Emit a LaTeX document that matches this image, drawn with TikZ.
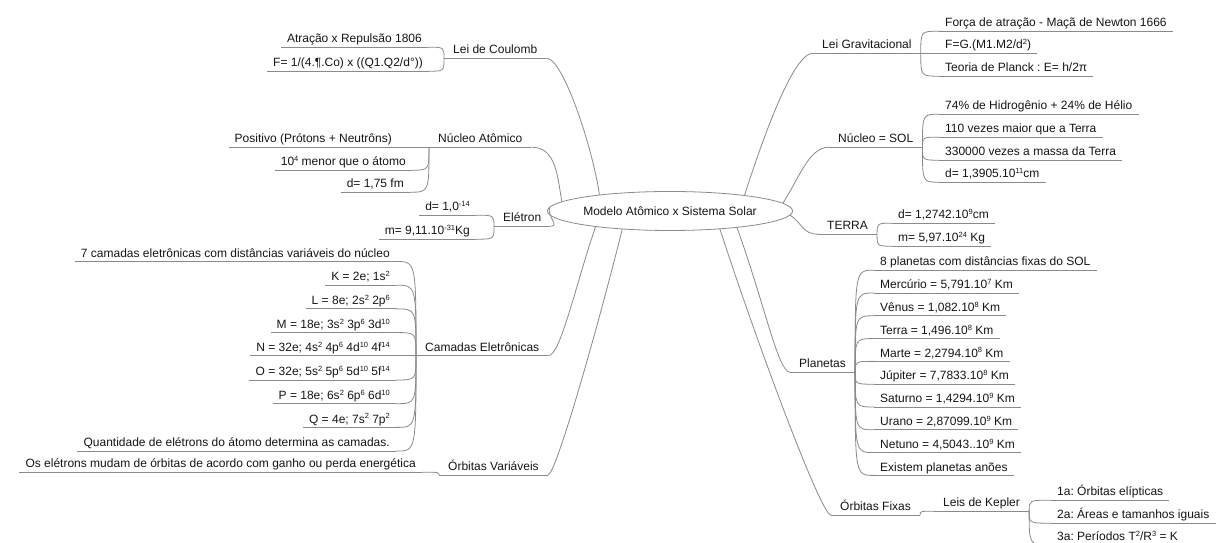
\documentclass[tikz,border=0pt]{standalone}
\usepackage{fontspec}
\setmainfont{Liberation Sans}
\usetikzlibrary{shapes.geometric}
\definecolor{ln}{HTML}{8A8A8A}
\definecolor{tx}{HTML}{161616}
\tikzset{
 every node/.style={font=\fontsize{12}{14}\selectfont\frenchspacing, text=tx},
 tp/.style={inner xsep=9pt, inner ysep=0.5pt, text depth=3.5pt},
 ch/.style={inner xsep=6pt, inner ysep=0.5pt, text depth=3.5pt},
 ul/.style={draw=ln, line width=0.8pt},
 cn/.style={draw=ln, line width=0.8pt},
}
\newcommand{\brL}[2]{\draw[cn] (#1.south west) .. controls (#1.south west |- #2.south east) .. (#2.south east);}
\newcommand{\brR}[2]{\draw[cn] (#1.south east) .. controls (#1.south east |- #2.south west) .. (#2.south west);}
\newcommand{\sps}[1]{\raisebox{4.2pt}{\fontsize{7.5}{8}\selectfont #1}}
\begin{document}
\begin{tikzpicture}[x=1pt,y=1pt]
\fill[white] (0,0) rectangle (1216,543);
\useasboundingbox (0,0) rectangle (1216,543);
% centre
\node[ellipse, draw=ln, line width=0.8pt, minimum width=205pt, minimum height=39pt, inner sep=0pt] (E) at (670,332) {Modelo Atômico x Sistema Solar};
% left topics
\node[tp, anchor=base west] (LC) at (444,489) {Lei de Coulomb};
\node[tp, anchor=base west] (NA) at (429,400) {Núcleo Atômico};
\node[tp, anchor=base west] (EL) at (494,321) {Elétron};
\node[tp, anchor=base west] (CE) at (416,191.5) {Camadas Eletrônicas};
\node[tp, anchor=base west] (OV) at (439,72) {Órbitas Variáveis};
% left children
\node[ch, anchor=base east] (LC1) at (428,500) {Atração x Repulsão 1806};
\node[ch, anchor=base east] (LC2) at (429,476) {F= 1/(4.¶.Co) x ((Q1.Q2/d°))};
\node[ch, anchor=base east] (NA1) at (398,400) {Positivo (Prótons + Neutrôns)};
\node[ch, anchor=base east] (NA2) at (412,377) {10\sps{4} menor que o átomo};
\node[ch, anchor=base east] (NA3) at (410,355) {d= 1,75 fm};
\node[ch, anchor=base east] (EL1) at (476,332) {d= 1,0\sps{-14}};
\node[ch, anchor=base east] (EL2) at (476,308) {m= 9,11.10\sps{-31}Kg};
\node[ch, anchor=base east] (CE1) at (396,285.7) {7 camadas eletrônicas com distâncias variáveis do núcleo};
\node[ch, anchor=base east] (CE2) at (396,262) {K = 2e; 1s\sps{2}};
\node[ch, anchor=base east] (CE3) at (396,238.3) {L = 8e; 2s\sps{2} 2p\sps{6}};
\node[ch, anchor=base east] (CE4) at (396,214.6) {M = 18e; 3s\sps{2} 3p\sps{6} 3d\sps{10}};
\node[ch, anchor=base east] (CE5) at (396,191.5) {N = 32e; 4s\sps{2} 4p\sps{6} 4d\sps{10} 4f\sps{14}};
\node[ch, anchor=base east] (CE6) at (396,167.2) {O = 32e; 5s\sps{2} 5p\sps{6} 5d\sps{10} 5f\sps{14}};
\node[ch, anchor=base east] (CE7) at (396,143.5) {P = 18e; 6s\sps{2} 6p\sps{6} 6d\sps{10}};
\node[ch, anchor=base east] (CE8) at (396,119.8) {Q = 4e; 7s\sps{2} 7p\sps{2}};
\node[ch, anchor=base east] (CE9) at (396,96.1) {Quantidade de elétrons do átomo determina as camadas.};
\node[ch, anchor=base east] (OV1) at (422,75) {Os elétrons mudam de órbitas de acordo com ganho ou perda energética};
% right topics
\node[tp, anchor=base west] (LG) at (813,494) {Lei Gravitacional};
\node[tp, anchor=base west] (NS) at (829,400) {Núcleo = SOL};
\node[tp, anchor=base west] (TE) at (818,313) {TERRA};
\node[tp, anchor=base west] (PL) at (790,175) {Planetas};
\node[tp, anchor=base west] (OF) at (831,32) {Órbitas Fixas};
\node[tp, anchor=base west] (LK) at (934,36) {Leis de Kepler};
% right children
\node[ch, anchor=base west] (LG1) at (939,516) {Força de atração - Maçã de Newton 1666};
\node[ch, anchor=base west] (LG2) at (939,494) {F=G.(M1.M2/d\sps{2})};
\node[ch, anchor=base west] (LG3) at (939,471) {Teoria de Planck : E= h/2π};
\node[ch, anchor=base west] (NS1) at (939,433) {74\% de Hidrogênio + 24\% de Hélio};
\node[ch, anchor=base west] (NS2) at (939,410) {110 vezes maior que a Terra};
\node[ch, anchor=base west] (NS3) at (939,387) {330000 vezes a massa da Terra};
\node[ch, anchor=base west] (NS4) at (939,365) {d= 1,3905.10\sps{11}cm};
\node[ch, anchor=base west] (TE1) at (892,324) {d= 1,2742.10\sps{9}cm};
\node[ch, anchor=base west] (TE2) at (892,301) {m= 5,97.10\sps{24} Kg};
\node[ch, anchor=base west] (PL1) at (874,277) {8 planetas com distâncias fixas do SOL};
\node[ch, anchor=base west] (PL2) at (874,254.2) {Mercúrio = 5,791.10\sps{7} Km};
\node[ch, anchor=base west] (PL3) at (874,231.4) {Vênus = 1,082.10\sps{8} Km};
\node[ch, anchor=base west] (PL4) at (874,208.6) {Terra = 1,496.10\sps{8} Km};
\node[ch, anchor=base west] (PL5) at (874,185.8) {Marte = 2,2794.10\sps{8} Km};
\node[ch, anchor=base west] (PL6) at (874,163) {Júpiter = 7,7833.10\sps{8} Km};
\node[ch, anchor=base west] (PL7) at (874,140.2) {Saturno = 1,4294.10\sps{9} Km};
\node[ch, anchor=base west] (PL8) at (874,117.4) {Urano = 2,87099.10\sps{9} Km};
\node[ch, anchor=base west] (PL9) at (874,94.6) {Netuno = 4,5043..10\sps{9} Km};
\node[ch, anchor=base west] (PL10) at (874,71.8) {Existem planetas anões};
\node[ch, anchor=base west] (LK1) at (1051,47) {1a: Órbitas elípticas};
\node[ch, anchor=base west] (LK2) at (1051,24) {2a: Áreas e tamanhos iguais};
\node[ch, anchor=base west] (LK3) at (1051,2) {3a: Períodos T\sps{2}/R\sps{3} = K};
% underlines
\foreach \n in {LC,NA,EL,CE,OV,LC1,LC2,NA1,NA2,NA3,EL1,EL2,CE1,CE2,CE3,CE4,CE5,CE6,CE7,CE8,CE9,OV1,LG,NS,TE,PL,OF,LK,LG1,LG2,LG3,NS1,NS2,NS3,NS4,TE1,TE2,PL1,PL2,PL3,PL4,PL5,PL6,PL7,PL8,PL9,PL10,LK1,LK2,LK3}
  \draw[ul] (\n.south west) -- (\n.south east);
% main branches
\draw[cn] (E.167) to[out=98, in=0, out distance=45pt, in distance=17pt] (LC.south east);
\draw[cn] (E.175) to[out=100, in=0, out distance=25pt, in distance=25pt] (NA.south east);
\draw[cn] (E.178) to[out=250, in=0, out distance=10pt, in distance=10pt] (EL.south east);
\draw[cn] (E.192) to[out=251, in=0, out distance=60pt, in distance=12pt] (CE.south east);
\draw[cn] (E.201) to[out=256, in=0, out distance=100pt, in distance=8pt] (OV.south east);
\draw[cn] (E.12) to[out=72, in=180, out distance=60pt, in distance=20pt] (LG.south west);
\draw[cn] (E.4) to[out=57, in=180, out distance=30pt, in distance=20pt] (NS.south west);
\draw[cn] (E.358) to[out=-35, in=180, out distance=15pt, in distance=15pt] (TE.south west);
\draw[cn] (E.346) to[out=-70, in=180, out distance=80pt, in distance=12pt] (PL.south west);
\draw[cn] (E.340) to[out=-72, in=180, out distance=120pt, in distance=10pt] (OF.south west);
% sub branches
\brL{LC}{LC1} \brL{LC}{LC2}
\brL{NA}{NA1} \brL{NA}{NA2} \brL{NA}{NA3}
\brL{EL}{EL1} \brL{EL}{EL2}
\foreach \i in {1,...,9} {\brL{CE}{CE\i}}
\brL{OV}{OV1}
\brR{LG}{LG1} \brR{LG}{LG2} \brR{LG}{LG3}
\brR{NS}{NS1} \brR{NS}{NS2} \brR{NS}{NS3} \brR{NS}{NS4}
\brR{TE}{TE1} \brR{TE}{TE2}
\foreach \i in {1,...,10} {\brR{PL}{PL\i}}
\brR{OF}{LK}
\brR{LK}{LK1} \brR{LK}{LK2} \brR{LK}{LK3}
\end{tikzpicture}
\end{document}
